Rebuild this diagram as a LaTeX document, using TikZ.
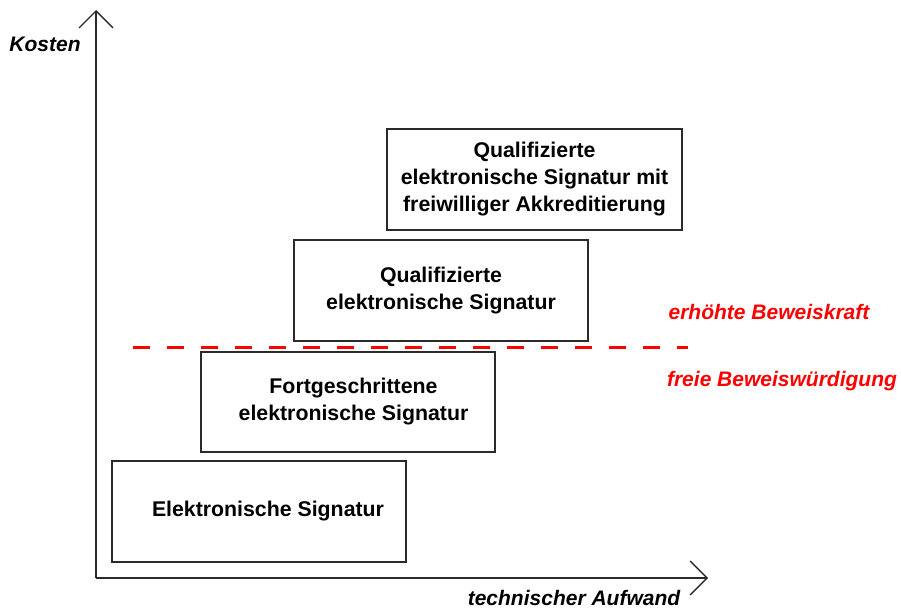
\documentclass[tikz,border=0pt]{standalone}
\usepackage{fontspec}
\setmainfont{Liberation Sans}
\usetikzlibrary{arrows.meta}
\definecolor{boxline}{HTML}{2A2A2A}
\definecolor{signalred}{HTML}{FF0000}
\tikzset{
  axis/.style={line width=1.6pt, draw=boxline,
    -{Straight Barb[length=17pt,width=34pt,line width=1.3pt]}},
  level/.style={draw=boxline, line width=2pt, minimum width=294pt,
    minimum height=101pt, inner sep=0pt, align=center,
    font=\fontsize{21.3}{27}\selectfont\bfseries},
  axislabel/.style={font=\fontsize{21}{24}\selectfont\bfseries\itshape, inner sep=0pt},
  redlabel/.style={axislabel, text=signalred},
  border/.style={draw=signalred, line width=3.2pt, dash pattern=on 17pt off 17pt}
}
\begin{document}
\begin{tikzpicture}[x=1pt,y=-1pt]
  \useasboundingbox (0,0) rectangle (901,610);

  % axes
  \coordinate (origin) at (96,578);
  \coordinate (ytip) at (96,10);
  \coordinate (xtip) at (708,578);
  \draw[axis] (origin) -- (ytip);
  \draw[axis] (origin) -- (xtip);
  \node[axislabel] (kosten) at (45,44) {Kosten};
  \node[axislabel] (aufwand) at (574,598) {technischer Aufwand};

  % signature levels
  \node[level] (es) at (259,511.5) {\hspace*{18pt}Elektronische Signatur};
  \node[level, minimum height=100pt] (fes) at (348,402) {\hspace*{11pt}Fortgeschrittene\\\hspace*{11pt}elektronische Signatur};
  \node[level] (qes) at (441,290.5) {Qualifizierte\\elektronische Signatur};
  \node[level, minimum width=295pt] (qesa) at (534.5,179.5) {Qualifizierte\\elektronische Signatur mit\\freiwilliger Akkreditierung};

  % evidential threshold
  \coordinate (lineL) at (133,347.5);
  \coordinate (lineR) at (688,347.5);
  \draw[border] (lineL) -- (lineR);
  \node[redlabel] (erhoeht) at (769,312) {erhöhte Beweiskraft};
  \node[redlabel] (frei) at (782,381) {freie Beweiswürdigung};
\end{tikzpicture}
\end{document}
